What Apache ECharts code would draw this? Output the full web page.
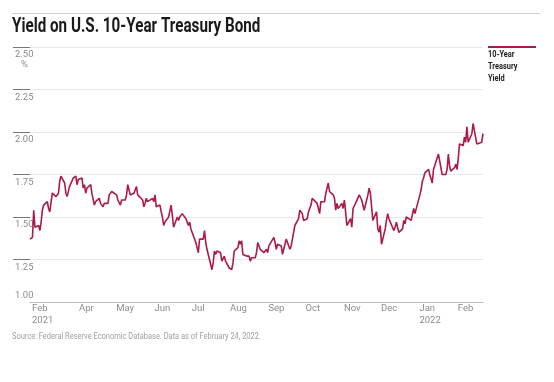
<!DOCTYPE html>
<html>
<head>
<meta charset="utf-8">
<script src="https://cdn.jsdelivr.net/npm/echarts@6/dist/echarts.min.js"></script>
<style>html,body{margin:0;padding:0;background:#fff}#c{width:554px;height:382px}</style>
</head>
<body>
<div id="c"></div>
<script>
var titleText = 'Yield on U.S. 10-Year Treasury Bond';
var seriesName = '10-Year\nTreasury\nYield';
var sourceText = 'Source: Federal Reserve Economic Database. Data as of February 24, 2022.';
var monthNames = ['Jan','Feb','Mar','Apr','May','Jun','Jul','Aug','Sep','Oct','Nov','Dec'];
var xMin = '2021-02-22';
var xMax = '2022-02-23';
var xLabelDates = ['2021-02-22','2021-04-01','2021-05-01','2021-06-01','2021-07-01','2021-08-01','2021-09-01','2021-10-01','2021-11-01','2021-12-01','2022-01-01','2022-02-01'];
var yTicks = [1.00, 1.25, 1.50, 1.75, 2.00, 2.25, 2.50];

var dates = [
'2021-02-22','2021-02-23','2021-02-24','2021-02-25','2021-02-26',
'2021-03-01','2021-03-02','2021-03-03','2021-03-04','2021-03-05','2021-03-08','2021-03-09','2021-03-10','2021-03-11','2021-03-12',
'2021-03-15','2021-03-16','2021-03-17','2021-03-18','2021-03-19','2021-03-22','2021-03-23','2021-03-24','2021-03-25','2021-03-26',
'2021-03-29','2021-03-30','2021-03-31','2021-04-01','2021-04-02','2021-04-05','2021-04-06','2021-04-07','2021-04-08','2021-04-09',
'2021-04-12','2021-04-13','2021-04-14','2021-04-15','2021-04-16','2021-04-19','2021-04-20','2021-04-21','2021-04-22','2021-04-23',
'2021-04-26','2021-04-27','2021-04-28','2021-04-29','2021-04-30','2021-05-03','2021-05-04','2021-05-05','2021-05-06','2021-05-07',
'2021-05-10','2021-05-11','2021-05-12','2021-05-13','2021-05-14','2021-05-17','2021-05-18','2021-05-19','2021-05-20','2021-05-21',
'2021-05-24','2021-05-25','2021-05-26','2021-05-27','2021-05-28','2021-06-01','2021-06-02','2021-06-03','2021-06-04',
'2021-06-07','2021-06-08','2021-06-09','2021-06-10','2021-06-11','2021-06-14','2021-06-15','2021-06-16','2021-06-17','2021-06-18',
'2021-06-21','2021-06-22','2021-06-23','2021-06-24','2021-06-25','2021-06-28','2021-06-29','2021-06-30','2021-07-01','2021-07-02',
'2021-07-06','2021-07-07','2021-07-08','2021-07-09','2021-07-12','2021-07-13','2021-07-14','2021-07-15','2021-07-16',
'2021-07-19','2021-07-20','2021-07-21','2021-07-22','2021-07-23','2021-07-26','2021-07-27','2021-07-28','2021-07-29','2021-07-30',
'2021-08-02','2021-08-03','2021-08-04','2021-08-05','2021-08-06','2021-08-09','2021-08-10','2021-08-11','2021-08-12','2021-08-13',
'2021-08-16','2021-08-17','2021-08-18','2021-08-19','2021-08-20','2021-08-23','2021-08-24','2021-08-25','2021-08-26','2021-08-27',
'2021-08-30','2021-08-31','2021-09-01','2021-09-02','2021-09-03','2021-09-07','2021-09-08','2021-09-09','2021-09-10',
'2021-09-13','2021-09-14','2021-09-15','2021-09-16','2021-09-17','2021-09-20','2021-09-21','2021-09-22','2021-09-23','2021-09-24',
'2021-09-27','2021-09-28','2021-09-29','2021-09-30','2021-10-01','2021-10-04','2021-10-05','2021-10-06','2021-10-07','2021-10-08',
'2021-10-12','2021-10-13','2021-10-14','2021-10-15','2021-10-18','2021-10-19','2021-10-20','2021-10-21','2021-10-22',
'2021-10-25','2021-10-26','2021-10-27','2021-10-28','2021-10-29','2021-11-01','2021-11-02','2021-11-03','2021-11-04','2021-11-05',
'2021-11-08','2021-11-09','2021-11-10','2021-11-12','2021-11-15','2021-11-16','2021-11-17','2021-11-18','2021-11-19',
'2021-11-22','2021-11-23','2021-11-24','2021-11-26','2021-11-29','2021-11-30','2021-12-01','2021-12-02','2021-12-03',
'2021-12-06','2021-12-07','2021-12-08','2021-12-09','2021-12-10','2021-12-13','2021-12-14','2021-12-15','2021-12-16','2021-12-17',
'2021-12-20','2021-12-21','2021-12-22','2021-12-23','2021-12-27','2021-12-28','2021-12-29','2021-12-30','2021-12-31',
'2022-01-03','2022-01-04','2022-01-05','2022-01-06','2022-01-07','2022-01-10','2022-01-11','2022-01-12','2022-01-13','2022-01-14',
'2022-01-18','2022-01-19','2022-01-20','2022-01-21','2022-01-24','2022-01-25','2022-01-26','2022-01-27','2022-01-28',
'2022-01-31','2022-02-01','2022-02-02','2022-02-03','2022-02-04','2022-02-07','2022-02-08','2022-02-09','2022-02-10','2022-02-11',
'2022-02-14','2022-02-15','2022-02-16','2022-02-17','2022-02-18','2022-02-22','2022-02-23'
];
var yields = [
1.37,1.37,1.38,1.54,1.44,
1.45,1.42,1.47,1.54,1.57,1.59,1.55,1.53,1.54,1.64,
1.62,1.62,1.64,1.71,1.74,1.70,1.64,1.62,1.63,1.68,
1.73,1.74,1.74,1.69,1.72,1.73,1.67,1.69,1.64,1.67,
1.69,1.64,1.64,1.57,1.59,1.61,1.58,1.58,1.56,1.58,
1.58,1.63,1.63,1.65,1.65,1.63,1.60,1.59,1.57,1.60,
1.60,1.63,1.69,1.66,1.63,1.64,1.64,1.68,1.63,1.63,
1.60,1.56,1.58,1.61,1.59,1.61,1.59,1.63,1.56,
1.57,1.53,1.50,1.45,1.47,1.50,1.50,1.57,1.51,1.44,
1.50,1.48,1.50,1.49,1.52,1.49,1.48,1.45,1.47,1.43,
1.35,1.32,1.29,1.37,1.37,1.42,1.35,1.31,1.30,
1.19,1.23,1.30,1.28,1.30,1.29,1.24,1.25,1.27,1.24,
1.20,1.19,1.19,1.23,1.30,1.32,1.36,1.34,1.36,1.28,
1.27,1.27,1.27,1.24,1.26,1.26,1.29,1.35,1.35,1.31,
1.29,1.30,1.31,1.29,1.33,1.38,1.35,1.31,1.34,
1.33,1.28,1.31,1.34,1.37,1.31,1.33,1.32,1.41,1.45,
1.49,1.54,1.55,1.52,1.48,1.49,1.53,1.53,1.57,1.61,
1.58,1.55,1.52,1.59,1.59,1.64,1.65,1.70,1.65,
1.63,1.61,1.54,1.58,1.55,1.58,1.55,1.60,1.53,1.45,
1.49,1.44,1.55,1.58,1.63,1.63,1.60,1.59,1.54,
1.63,1.67,1.64,1.48,1.53,1.43,1.41,1.45,1.34,
1.43,1.48,1.52,1.49,1.48,1.42,1.44,1.47,1.44,1.41,
1.43,1.48,1.46,1.50,1.48,1.49,1.55,1.52,1.52,
1.63,1.66,1.71,1.73,1.76,1.78,1.75,1.74,1.70,1.78,
1.87,1.83,1.83,1.75,1.75,1.78,1.87,1.80,1.77,
1.79,1.81,1.78,1.84,1.93,1.92,1.97,1.94,2.03,1.94,
1.99,2.05,2.04,1.97,1.93,1.94,1.99
];

var lineColor = '#ad1a48';
var fontFam = 'Roboto, "Liberation Sans", sans-serif';
var labelColor = '#8c8c8c';

function ts(s){ var p = s.split('-'); return new Date(+p[0], +p[1]-1, +p[2]).getTime(); }
var seriesData = dates.map(function(d, i){ return [ts(d), yields[i]]; });
var labelTs = xLabelDates.map(ts);

var chart = echarts.init(document.getElementById('c'), null, {renderer: 'canvas'});
chart.setOption({
  animation: false,
  backgroundColor: '#fff',
  grid: {left: 30, right: 71, top: 47, bottom: 80, containLabel: false},
  xAxis: {
    type: 'value', min: ts(xMin), max: ts(xMax), scale: true,
    axisLine: {show: true, lineStyle: {color: '#bdbdbd', width: 1}},
    axisTick: {show: false},
    splitLine: {show: false},
    axisLabel: {
      customValues: labelTs,
      showMinLabel: true, showMaxLabel: true,
      align: 'left', margin: 1, padding: [0, 0, 0, 2],
      fontFamily: fontFam, fontSize: 9.5, color: labelColor, lineHeight: 12,
      formatter: function(v){
        var d = new Date(v);
        var m = monthNames[d.getMonth()];
        if (v === labelTs[0] || d.getMonth() === 0) return m + '\n' + d.getFullYear();
        return m;
      }
    }
  },
  yAxis: [{
    type: 'value', min: yTicks[0], max: yTicks[yTicks.length-1], interval: 0.25,
    name: '%', nameLocation: 'end', nameGap: -18,
    nameTextStyle: {fontFamily: fontFam, fontSize: 9.5, color: labelColor, align: 'right', verticalAlign: 'middle', padding: [0, 2, 0, 0]},
    axisLine: {show: false},
    axisTick: {show: true, length: 17, lineStyle: {color: '#777', width: 1}},
    splitLine: {show: true, lineStyle: {color: '#e8e8e8', width: 1}},
    axisLabel: {
      showMinLabel: false,
      align: 'left', margin: 15, verticalAlign: 'top', padding: [3, 0, 0, 0],
      fontFamily: fontFam, fontSize: 9.5, color: labelColor,
      formatter: function(v){ return v.toFixed(2); }
    }
  }, {
    type: 'value', position: 'left', min: yTicks[0], max: yTicks[yTicks.length-1], interval: 0.25,
    axisLine: {show: false}, axisTick: {show: false}, splitLine: {show: false},
    axisLabel: {
      align: 'left', margin: 15, verticalAlign: 'bottom', padding: [0, 0, 1, 0],
      fontFamily: fontFam, fontSize: 9.5, color: labelColor,
      formatter: function(v){ return v === yTicks[0] ? v.toFixed(2) : ''; }
    }
  }],
  series: [{
    name: seriesName, type: 'line', data: seriesData, showSymbol: false,
    lineStyle: {color: lineColor, width: 1.6}, itemStyle: {color: lineColor}
  }],
  graphic: [
    {type: 'line', shape: {x1: 12, y1: 13.5, x2: 540, y2: 13.5}, style: {stroke: '#d0d0d0', lineWidth: 1}},
    {type: 'text', x: 12, y: 27, scaleX: 0.76,
      style: {text: titleText, font: 'bold 20px ' + fontFam, fill: '#1a1a1a', align: 'left', verticalAlign: 'middle'}},
    {type: 'line', shape: {x1: 488, y1: 47, x2: 536, y2: 47}, style: {stroke: lineColor, lineWidth: 2}},
    {type: 'text', x: 488, y: 49, scaleX: 0.78,
      style: {text: seriesName, font: 'bold 9.5px ' + fontFam, fill: '#222', lineHeight: 12, align: 'left', verticalAlign: 'top'}},
    {type: 'text', x: 12, y: 337, scaleX: 0.83,
      style: {text: sourceText, font: '9px ' + fontFam, fill: '#a0a0a0', align: 'left', verticalAlign: 'middle'}}
  ]
});
</script>
</body>
</html>
